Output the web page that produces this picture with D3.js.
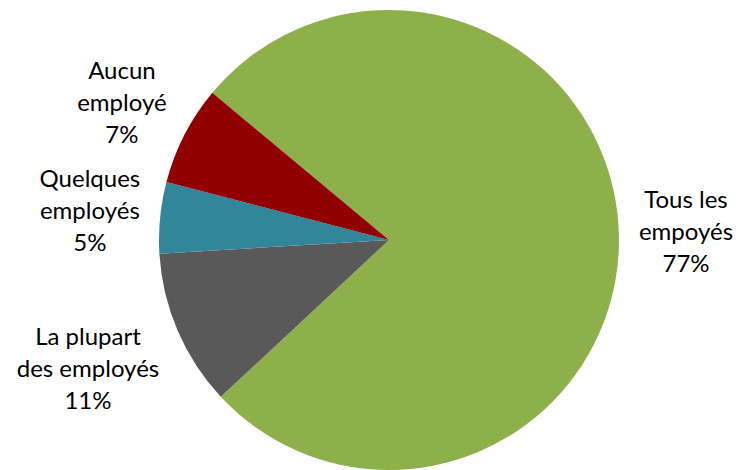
<!DOCTYPE html>
<html lang="fr">
<head>
<meta charset="utf-8">
<title>Pie</title>
<script src="https://cdn.jsdelivr.net/npm/d3@7/dist/d3.min.js"></script>
<style>
  body { margin: 0; background: #fff; }
  text { font-family: Lato, "Open Sans", sans-serif; fill: #000; }
</style>
</head>
<body>
<div id="chart"></div>
<script>
var categories = ["Tous les empoyés", "La plupart des employés", "Quelques employés", "Aucun employé"];
var labelLines = [["Tous les", "empoyés"], ["La plupart", "des employés"], ["Quelques", "employés"], ["Aucun", "employé"]];
var values = [77, 11, 5, 7];
var colors = ["#8db04b", "#595959", "#31869b", "#900000"];

var width = 739, height = 470;
var cx = 389, cy = 240, radius = 230;
var startDeg = 309.8;

var svg = d3.select("#chart").append("svg")
    .attr("width", width)
    .attr("height", height);

var g = svg.append("g").attr("transform", "translate(" + cx + "," + cy + ")");

var pie = d3.pie()
    .sort(null)
    .value(function(d) { return d; })
    .startAngle(startDeg * Math.PI / 180)
    .endAngle((startDeg + 360) * Math.PI / 180);

var arcs = pie(values);
var arc = d3.arc().innerRadius(0).outerRadius(radius);

g.selectAll("path")
    .data(arcs)
    .enter()
    .append("path")
    .attr("d", arc)
    .style("fill", function(d, i) { return colors[i]; });

// etiquettes : la boite touche le rayon au point d'ancrage
var fontSize = 24, lineH = 32, anchorR = radius + 20;
var labels = g.selectAll(".lbl")
    .data(arcs)
    .enter()
    .append("g")
    .attr("class", "lbl");

labels.each(function(d, i) {
    var lg = d3.select(this);
    var lines = labelLines[i].concat([values[i] + "%"]);
    var t = lg.append("text")
        .attr("text-anchor", "middle")
        .style("font-size", fontSize + "px");
    lines.forEach(function(s, k) {
        t.append("tspan")
            .attr("x", 0)
            .attr("y", (k - (lines.length - 1) / 2) * lineH)
            .attr("dy", "0.35em")
            .text(s);
    });
    var bb = t.node().getBBox();
    var hw = bb.width / 2, hh = lines.length * lineH / 2;
    var a = (d.startAngle + d.endAngle) / 2;
    var dx = Math.sin(a), dy = -Math.cos(a);
    var tt = Math.min(hw / Math.abs(dx || 1e-6), hh / Math.abs(dy || 1e-6));
    var px = dx * (anchorR + tt), py = dy * (anchorR + tt);
    lg.attr("transform", "translate(" + px + "," + py + ")");
});
</script>
</body>
</html>
